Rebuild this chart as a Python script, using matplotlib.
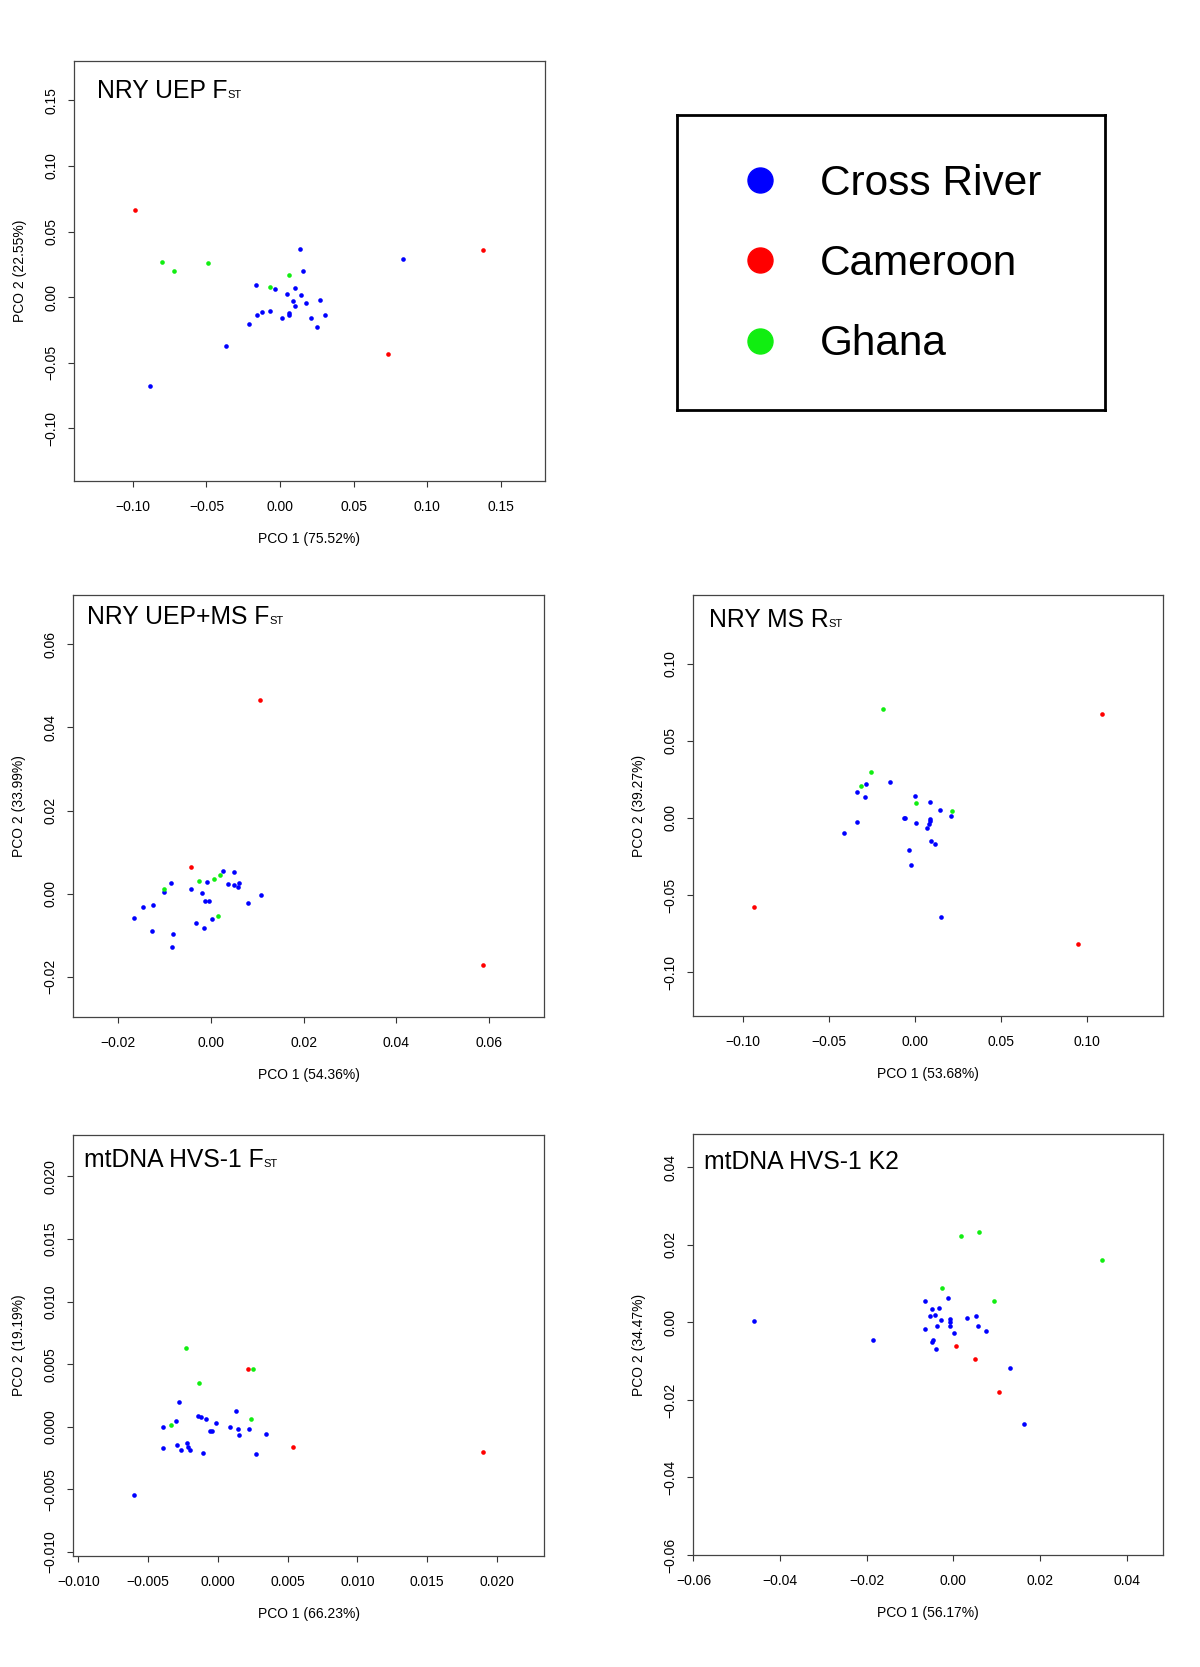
import numpy as np
import matplotlib.pyplot as plt
from matplotlib.lines import Line2D

plt.rcParams['font.family'] = ['Liberation Sans', 'DejaVu Sans']

# NRY UEP Fst
uep_cross = [(0.0138, 0.0365), (0.0837, 0.0289), (0.0158, 0.0198), (-0.0165, 0.0096),
             (-0.0034, 0.0061), (0.0102, 0.0071), (0.0049, 0.0025), (0.0143, 0.0015),
             (0.0274, -0.0020), (0.0087, -0.0025), (0.0100, -0.0066), (0.0175, -0.0046),
             (-0.0121, -0.0112), (-0.0066, -0.0106), (-0.0160, -0.0137), (0.0061, -0.0122),
             (0.0063, -0.0132), (0.0012, -0.0157), (0.0209, -0.0157), (0.0308, -0.0137),
             (0.0248, -0.0223), (-0.0211, -0.0203), (-0.0364, -0.0375), (-0.0886, -0.0679)]
uep_cam = [(-0.0988, 0.0664), (0.1381, 0.0360), (0.0736, -0.0436)]
uep_gha = [(-0.0803, 0.0269), (-0.0723, 0.0203), (-0.0490, 0.0258), (0.0061, 0.0167),
           (-0.0070, 0.0081)]

# NRY UEP+MS Fst
uepms_cross = [(0.00262, 0.00552), (0.00508, 0.00520), (0.00370, 0.00231), (0.00508, 0.00215),
               (0.00608, 0.00263), (0.00585, 0.00167), (-0.00077, 0.00279), (-0.00855, 0.00247),
               (-0.01009, 0.00046), (-0.00431, 0.00118), (-0.00192, 0.00022), (-0.00123, -0.00186),
               (-0.00031, -0.00186), (0.01078, -0.00042), (0.00793, -0.00218), (-0.01471, -0.00331),
               (-0.01240, -0.00283), (-0.01648, -0.00588), (-0.00316, -0.00716), (-0.00139, -0.00828),
               (0.00031, -0.00620), (-0.01270, -0.00909), (-0.00824, -0.00973), (-0.00839, -0.01294)]
uepms_cam = [(0.01055, 0.0466), (-0.00431, 0.00632), (0.0587, -0.0172)]
uepms_gha = [(-0.01016, 0.00103), (-0.00246, 0.00295), (0.00077, 0.00343), (0.00193, 0.00455),
             (0.00154, -0.00540)]

# NRY MS Rst
ms_cross = [(-0.0141, 0.0231), (-0.0282, 0.0218), (-0.0332, 0.0166), (-0.0288, 0.0136),
            (0.0004, 0.0140), (0.0087, 0.0102), (0.0149, 0.0050), (0.0210, 0.0015),
            (-0.0062, -0.0002), (-0.0058, 0.0002), (0.0091, -0.0006), (0.0087, -0.0019),
            (0.0008, -0.0032), (0.0081, -0.0041), (0.0075, -0.0063), (-0.0332, -0.0028),
            (-0.0409, -0.0097), (0.0093, -0.0149), (0.0116, -0.0171), (-0.0035, -0.0210),
            (-0.0021, -0.0309), (0.0154, -0.0646)]
ms_cam = [(0.1089, 0.0672), (-0.0934, -0.0577), (0.0948, -0.0819)]
ms_gha = [(-0.0183, 0.0706), (-0.0253, 0.0296), (-0.0311, 0.0205), (0.0008, 0.0097),
          (0.0216, 0.0045)]

# mtDNA HVS-1 Fst
hvs_cross = [(-0.00279, 0.00198), (0.00128, 0.00124), (-0.00146, 0.00086), (-0.00118, 0.00076),
             (-0.00084, 0.00060), (-0.00013, 0.00028), (-0.00302, 0.00049), (-0.00392, 0.00001),
             (0.00087, -0.00005), (0.00146, -0.00020), (0.00223, -0.00015), (-0.00059, -0.00031),
             (-0.00046, -0.00036), (0.00154, -0.00063), (0.00346, -0.00058), (-0.00292, -0.00143),
             (-0.00220, -0.00127), (-0.00218, -0.00159), (-0.00392, -0.00170), (-0.00266, -0.00186),
             (-0.00197, -0.00186), (-0.00105, -0.00212), (0.00271, -0.00218), (-0.00602, -0.00548)]
hvs_cam = [(0.00212, 0.00464), (0.00535, -0.00159), (0.01899, -0.00201)]
hvs_gha = [(-0.00228, 0.00627), (0.00253, 0.00459), (-0.00138, 0.00352), (0.00236, 0.00065),
           (-0.00333, 0.00017)]

# mtDNA HVS-1 K2
k2_cross = [(-0.04600, 0.00036), (-0.01865, -0.00445), (-0.00127, 0.00620), (-0.00646, 0.00552),
            (-0.00490, 0.00346), (-0.00342, 0.00363), (-0.00415, 0.00191), (-0.00539, 0.00174),
            (-0.00275, 0.00053), (-0.00077, 0.00088), (-0.00077, 0.00019), (-0.00086, -0.00084),
            (-0.00366, -0.00084), (0.00318, 0.00105), (0.00532, 0.00174), (0.00565, -0.00084),
            (0.00754, -0.00222), (0.00021, -0.00273), (-0.00646, -0.00170), (-0.00465, -0.00445),
            (-0.00498, -0.00514), (-0.00391, -0.00686), (0.01306, -0.01167), (0.01620, -0.02629)]
k2_cam = [(0.00063, -0.00600), (0.00491, -0.00944), (0.01059, -0.01787)]
k2_gha = [(0.00186, 0.02236), (0.00598, 0.02322), (0.03432, 0.01618), (-0.00267, 0.00879),
          (0.00944, 0.00552)]

groups = ['Cross River', 'Cameroon', 'Ghana']
colors = ['#0000ff', '#ff0000', '#11ee11']

W, H = 1200, 1667
fig = plt.figure(figsize=(W / 100, H / 100), dpi=100)


def px_rect(l, t, r, b):
    return [l / W, 1 - b / H, (r - l) / W, (b - t) / H]


panels = [
    dict(data=(uep_cross, uep_cam, uep_gha), box=(74, 61, 545, 481), title=('NRY UEP F', 'ST'),
         toff=(23, 37), xl='PCO 1 (75.52%)', yl='PCO 2 (22.55%)',
         xlim=(-0.140, 0.180), ylim=(-0.140, 0.180),
         ticks=[-0.10, -0.05, 0.00, 0.05, 0.10, 0.15], fmt='{:.2f}'),
    dict(data=(uepms_cross, uepms_cam, uepms_gha), box=(73, 595, 544, 1017), title=('NRY UEP+MS F', 'ST'),
         toff=(14, 29), xl='PCO 1 (54.36%)', yl='PCO 2 (33.99%)',
         xlim=(-0.0297, 0.0718), ylim=(-0.0297, 0.0719),
         ticks=[-0.02, 0.00, 0.02, 0.04, 0.06], fmt='{:.2f}'),
    dict(data=(ms_cross, ms_cam, ms_gha), box=(693, 595, 1163, 1016), title=('NRY MS R', 'ST'),
         toff=(16, 32), xl='PCO 1 (53.68%)', yl='PCO 2 (39.27%)',
         xlim=(-0.1288, 0.1444), ylim=(-0.1285, 0.1445),
         ticks=[-0.10, -0.05, 0.00, 0.05, 0.10], fmt='{:.2f}'),
    dict(data=(hvs_cross, hvs_cam, hvs_gha), box=(73, 1135, 544, 1556), title=('mtDNA HVS-1 F', 'ST'),
         toff=(11, 32), xl='PCO 1 (66.23%)', yl='PCO 2 (19.19%)',
         xlim=(-0.01039, 0.02337), ylim=(-0.01032, 0.0233),
         ticks=[-0.010, -0.005, 0.000, 0.005, 0.010, 0.015, 0.020], fmt='{:.3f}'),
    dict(data=(k2_cross, k2_cam, k2_gha), box=(693, 1134, 1163, 1555), title=('mtDNA HVS-1 K2', ''),
         toff=(11, 35), xl='PCO 1 (56.17%)', yl='PCO 2 (34.47%)',
         xlim=(-0.0601, 0.0484), ylim=(-0.060, 0.0486),
         ticks=[-0.06, -0.04, -0.02, 0.00, 0.02, 0.04], fmt='{:.2f}'),
]

for p in panels:
    l, t, r, b = p['box']
    ax = fig.add_axes(px_rect(l, t, r, b))
    for pts, col in zip(p['data'], colors):
        arr = np.array(pts)
        ax.scatter(arr[:, 0], arr[:, 1], s=11, c=col, linewidths=0, zorder=3)
    ax.set_xlim(p['xlim'])
    ax.set_ylim(p['ylim'])
    labels = [p['fmt'].format(v).replace('-', '\u2212') for v in p['ticks']]
    ax.set_xticks(p['ticks'], labels)
    ax.set_yticks(p['ticks'], labels, rotation=90, va='center')
    ax.tick_params(direction='out', length=4.5, width=0.8, labelsize=10, color='#333333')
    ax.tick_params(axis='x', pad=9)
    ax.tick_params(axis='y', pad=6.5)
    for sp in ax.spines.values():
        sp.set_color('#444444')
        sp.set_linewidth(0.9)
    ax.set_xlabel(p['xl'], fontsize=10, labelpad=13)
    ax.set_ylabel(p['yl'], fontsize=10, labelpad=13)

    dx, dy = p['toff']
    ty = 1 - dy / (b - t)
    main, sub = p['title']
    tt = ax.text(dx / (r - l), ty, main, fontsize=17.8, va='baseline', transform=ax.transAxes)
    if sub:
        ax.annotate(sub, xy=(1, ty), xycoords=(tt, ax.transAxes), fontsize=8, va='baseline', ha='left')

# legend panel
lax = fig.add_axes(px_rect(677, 115, 1105, 410))
lax.set_xticks([])
lax.set_yticks([])
for sp in lax.spines.values():
    sp.set_color('black')
    sp.set_linewidth(2)
handles = [Line2D([], [], ls='none', marker='o', ms=18, mfc=c, mec=c) for c in colors]
lax.legend(handles, groups, loc='upper left', bbox_to_anchor=(0.095, 0.833), frameon=False,
           fontsize=30.5, borderpad=0, borderaxespad=0, handlelength=2.0, handletextpad=0.415,
           labelspacing=0.945)

fig.savefig('out.png', dpi=100)
